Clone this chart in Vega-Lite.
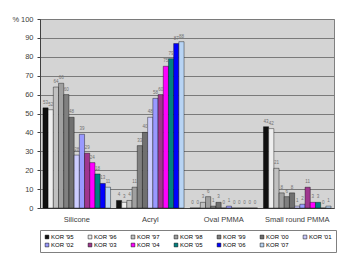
{
  "$schema": "https://vega.github.io/schema/vega-lite/v6.json",
  "width": 294,
  "height": 189,
  "autosize": {"type": "none"},
  "padding": {"left": 40, "top": 19, "right": 10, "bottom": 45},
  "background": "#ffffff",
  "config": {
    "font": "Liberation Sans",
    "view": {"fill": "#d4d4d4", "stroke": "#808080", "strokeWidth": 1}
  },
  "data": {"values": [
    {"cat": "Silicone", "year": "KOR '95", "v": 53},
    {"cat": "Silicone", "year": "KOR '96", "v": 52},
    {"cat": "Silicone", "year": "KOR '97", "v": 64},
    {"cat": "Silicone", "year": "KOR '98", "v": 66},
    {"cat": "Silicone", "year": "KOR '99", "v": 60},
    {"cat": "Silicone", "year": "KOR '00", "v": 48},
    {"cat": "Silicone", "year": "KOR '01", "v": 28},
    {"cat": "Silicone", "year": "KOR '02", "v": 39},
    {"cat": "Silicone", "year": "KOR '03", "v": 29},
    {"cat": "Silicone", "year": "KOR '04", "v": 24},
    {"cat": "Silicone", "year": "KOR '05", "v": 18},
    {"cat": "Silicone", "year": "KOR '06", "v": 13},
    {"cat": "Silicone", "year": "KOR '07", "v": 11},
    {"cat": "Acryl", "year": "KOR '95", "v": 4},
    {"cat": "Acryl", "year": "KOR '96", "v": 3},
    {"cat": "Acryl", "year": "KOR '97", "v": 4},
    {"cat": "Acryl", "year": "KOR '98", "v": 11},
    {"cat": "Acryl", "year": "KOR '99", "v": 33},
    {"cat": "Acryl", "year": "KOR '00", "v": 40},
    {"cat": "Acryl", "year": "KOR '01", "v": 48},
    {"cat": "Acryl", "year": "KOR '02", "v": 58},
    {"cat": "Acryl", "year": "KOR '03", "v": 60},
    {"cat": "Acryl", "year": "KOR '04", "v": 75},
    {"cat": "Acryl", "year": "KOR '05", "v": 79},
    {"cat": "Acryl", "year": "KOR '06", "v": 87},
    {"cat": "Acryl", "year": "KOR '07", "v": 88},
    {"cat": "Oval PMMA", "year": "KOR '95", "v": 0},
    {"cat": "Oval PMMA", "year": "KOR '96", "v": 0},
    {"cat": "Oval PMMA", "year": "KOR '97", "v": 3},
    {"cat": "Oval PMMA", "year": "KOR '98", "v": 6},
    {"cat": "Oval PMMA", "year": "KOR '99", "v": 1},
    {"cat": "Oval PMMA", "year": "KOR '00", "v": 3},
    {"cat": "Oval PMMA", "year": "KOR '01", "v": 0},
    {"cat": "Oval PMMA", "year": "KOR '02", "v": 1},
    {"cat": "Oval PMMA", "year": "KOR '03", "v": 0},
    {"cat": "Oval PMMA", "year": "KOR '04", "v": 0},
    {"cat": "Oval PMMA", "year": "KOR '05", "v": 0},
    {"cat": "Oval PMMA", "year": "KOR '06", "v": 0},
    {"cat": "Oval PMMA", "year": "KOR '07", "v": 0},
    {"cat": "Small round PMMA", "year": "KOR '95", "v": 43},
    {"cat": "Small round PMMA", "year": "KOR '96", "v": 42},
    {"cat": "Small round PMMA", "year": "KOR '97", "v": 21},
    {"cat": "Small round PMMA", "year": "KOR '98", "v": 8},
    {"cat": "Small round PMMA", "year": "KOR '99", "v": 6},
    {"cat": "Small round PMMA", "year": "KOR '00", "v": 8},
    {"cat": "Small round PMMA", "year": "KOR '01", "v": 1},
    {"cat": "Small round PMMA", "year": "KOR '02", "v": 2},
    {"cat": "Small round PMMA", "year": "KOR '03", "v": 11},
    {"cat": "Small round PMMA", "year": "KOR '04", "v": 3},
    {"cat": "Small round PMMA", "year": "KOR '05", "v": 3},
    {"cat": "Small round PMMA", "year": "KOR '06", "v": 0},
    {"cat": "Small round PMMA", "year": "KOR '07", "v": 1}
  ]},
  "encoding": {
    "x": {
      "field": "cat", "type": "nominal", "sort": null,
      "scale": {"paddingInner": 0.08, "paddingOuter": 0.04},
      "axis": {"title": null, "labelAngle": 0, "labelFontSize": 7.5, "labelColor": "#404040", "labelPadding": 7, "ticks": false, "domainColor": "#404040"}
    },
    "xOffset": {"field": "year", "type": "nominal", "sort": null, "scale": {"paddingInner": 0, "paddingOuter": 0}},
    "y": {
      "field": "v", "type": "quantitative",
      "scale": {"domain": [0, 100], "nice": false},
      "axis": {
        "values": [0, 10, 20, 30, 40, 50, 60, 70, 80, 90, 100],
        "title": "%", "titleAngle": 0, "titleX": -28, "titleY": 0, "titleAlign": "left", "titleBaseline": "middle",
        "titleFontSize": 7.5, "titleFontWeight": "normal", "titleColor": "#404040",
        "labelFontSize": 7.5, "labelColor": "#404040", "labelPadding": 4,
        "tickSize": 3, "tickColor": "#404040", "domainColor": "#404040",
        "grid": true, "gridColor": "#7a7a7a", "gridWidth": 1
      }
    }
  },
  "layer": [
    {
      "mark": {"type": "bar", "stroke": "#000000", "strokeWidth": 0.4},
      "encoding": {
        "color": {
          "field": "year", "type": "nominal", "sort": null,
          "scale": {
            "domain": ["KOR '95", "KOR '96", "KOR '97", "KOR '98", "KOR '99", "KOR '00", "KOR '01", "KOR '02", "KOR '03", "KOR '04", "KOR '05", "KOR '06", "KOR '07"],
            "range": ["#101010", "#eeeeee", "#c0c0c0", "#a0a0a0", "#808080", "#707070", "#ccccff", "#9999ff", "#a0368f", "#ff00ff", "#008080", "#0000ff", "#b8d4f4"]
          },
          "legend": {
            "orient": "none", "legendX": 0, "legendY": 211, "direction": "horizontal", "columns": 7,
            "title": null, "symbolType": "square", "symbolSize": 14, "symbolStrokeColor": "#000000", "symbolStrokeWidth": 0.5,
            "labelFontSize": 6, "labelColor": "#000000", "symbolOffset": 0, "labelOffset": 1,
            "columnPadding": 13, "rowPadding": 2, "padding": 4,
            "strokeColor": "#808080", "fillColor": "#ffffff"
          }
        }
      }
    },
    {
      "mark": {"type": "text", "fontSize": 4.5, "color": "#707070", "dy": -3, "baseline": "bottom"},
      "encoding": {"text": {"field": "v", "type": "quantitative"}}
    }
  ]
}
